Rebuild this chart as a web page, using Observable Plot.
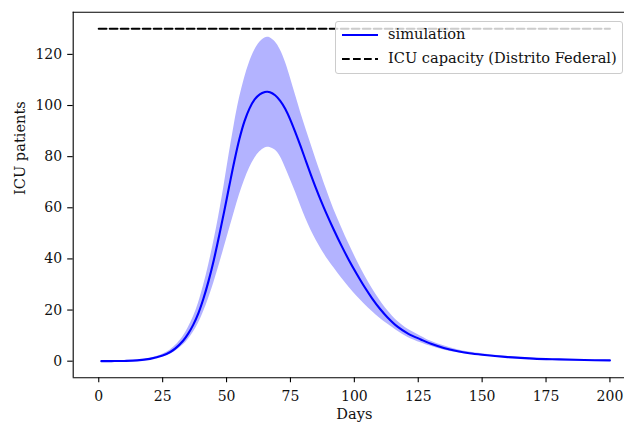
<!DOCTYPE html>
<html>
<head>
<meta charset="utf-8">
<script src="https://cdn.jsdelivr.net/npm/d3@7"></script>
<script src="https://cdn.jsdelivr.net/npm/@observablehq/plot@0.6"></script>
<style>
  html, body { margin: 0; padding: 0; background: white; }
  #wrap { position: relative; width: 624px; height: 423px; overflow: hidden; font-family: "DejaVu Serif", "Liberation Serif", serif; }
  #wrap svg text { font-family: "DejaVu Serif", "Liberation Serif", serif; }
  #legend { position: absolute; left: 335px; top: 20.5px; width: 288px; height: 53px; box-sizing: border-box;
    border: 1px solid #cccccc; border-radius: 3px; background: rgba(255,255,255,0.8); }
  #legend .item { position: absolute; left: 0; height: 20px; width: 100%; }
  #legend svg { position: absolute; left: 5px; top: 0; }
  #legend span { position: absolute; left: 52px; top: -1px; line-height: 20px; color: #111; white-space: nowrap; font-size: 14.6px; }
</style>
</head>
<body>
<div id="wrap"></div>
<script>
// Days sampled along the simulation curve
const days = [1, 5, 10, 15, 20, 25, 28, 30, 33, 35, 37, 39, 41, 43, 45, 47, 49, 51, 53, 55, 57, 59, 61, 63, 65, 66, 67, 69, 71, 73, 75, 77, 79, 81, 83, 85, 87, 89, 92, 95, 98, 101, 104, 107, 110, 113, 117, 121, 126, 130, 135, 140, 145, 150, 160, 170, 180, 190, 200];
// Mean simulated ICU patients
const meanICU = [0.02, 0.04, 0.1, 0.3, 0.9, 2.2, 3.6, 5.0, 8.0, 10.8, 14.3, 18.8, 24.6, 31.5, 39.5, 48.6, 58.2, 68.2, 78.0, 86.8, 93.8, 98.9, 102.4, 104.4, 105.3, 105.4, 105.2, 104.0, 101.8, 98.6, 94.3, 89.3, 84.0, 78.4, 72.9, 67.6, 62.6, 57.9, 51.3, 45.1, 39.3, 34.0, 29.0, 24.5, 20.5, 17.1, 13.4, 10.8, 8.5, 6.8, 5.2, 4.0, 3.1, 2.5, 1.6, 1.0, 0.7, 0.45, 0.3];
// Upper edge of the shaded band
const upperICU = [0.03, 0.05, 0.12, 0.37, 1.1, 2.7, 4.4, 6.1, 9.7, 13.1, 17.3, 22.7, 29.6, 37.6, 46.8, 57.0, 68.4, 80.8, 92.4, 102.6, 110.6, 116.9, 121.6, 124.7, 126.4, 126.7, 126.5, 124.9, 121.8, 117.0, 110.8, 104.0, 97.3, 91.0, 84.9, 78.9, 73.1, 67.4, 59.3, 52.3, 45.6, 39.4, 33.6, 28.4, 23.8, 19.8, 15.5, 12.5, 9.8, 7.8, 6.0, 4.6, 3.6, 2.9, 1.85, 1.15, 0.8, 0.52, 0.35];
// Lower edge of the shaded band
const lowerICU = [0.015, 0.03, 0.08, 0.24, 0.7, 1.7, 2.8, 3.9, 6.3, 8.5, 11.3, 14.8, 19.3, 24.6, 30.6, 37.2, 44.2, 51.2, 58.2, 64.9, 70.7, 75.6, 79.3, 81.9, 83.4, 83.7, 83.6, 82.6, 80.1, 75.8, 71.0, 66.1, 60.8, 55.8, 51.3, 47.4, 43.9, 40.7, 36.5, 32.5, 28.8, 25.4, 22.3, 19.4, 16.8, 14.5, 11.7, 9.3, 7.2, 5.8, 4.4, 3.4, 2.65, 2.1, 1.35, 0.85, 0.6, 0.4, 0.27];
// ICU capacity line
const capacityDays = [0, 200];
const capacityValue = 130;
const xTicks = [0, 25, 50, 75, 100, 125, 150, 175, 200];
const yTicks = [0, 20, 40, 60, 80, 100, 120];
const xLabel = "Days";
const yLabel = "ICU patients";
const legendLabels = ["simulation", "ICU capacity (Distrito Federal)"];

const FAM = '"DejaVu Serif", "Liberation Serif", serif';
const FS = 14;
const LFS = 14.6;

const sim = days.map((d, i) => ({day: d, mean: meanICU[i], upper: upperICU[i], lower: lowerICU[i]}));
const cap = capacityDays.map(d => ({day: d, v: capacityValue}));

const xDomain = [-10, 205.7];
const yDomain = [-6.5, 136.5];

const chart = Plot.plot({
  width: 624,
  height: 423,
  marginLeft: 72.7,
  marginRight: 0,
  marginTop: 11.7,
  marginBottom: 45.7,
  style: {fontFamily: FAM, fontSize: FS + "px", color: "#111", background: "white"},
  x: {domain: xDomain},
  y: {domain: yDomain},
  marks: [
    Plot.areaY(sim, {x: "day", y1: "lower", y2: "upper", fill: "rgb(179,179,255)", curve: "catmull-rom"}),
    Plot.lineY(sim, {x: "day", y: "mean", stroke: "#0000ff", strokeWidth: 2.1, curve: "catmull-rom"}),
    Plot.lineY(cap, {x: "day", y: "v", stroke: "black", strokeWidth: 2.1, strokeDasharray: "7.7,3.3"}),
    Plot.ruleX([xDomain[0]], {stroke: "black", strokeWidth: 1.1}),
    Plot.ruleY(yDomain, {stroke: "black", strokeWidth: 1.1}),
    Plot.axisX({ticks: xTicks, tickSize: 5, tickPadding: 8, tickFormat: d => String(d), label: null, stroke: "black", strokeWidth: 1.1, fontSize: FS}),
    Plot.axisY({ticks: yTicks, tickSize: 5.5, tickPadding: 5.5, tickFormat: d => String(d), label: null, stroke: "black", strokeWidth: 1.1, fontSize: FS}),
    Plot.text([{t: xLabel, x: 100}], {x: "x", text: "t", frameAnchor: "bottom", dy: 36.5, lineAnchor: "middle", fontSize: LFS}),
    Plot.text([yLabel], {frameAnchor: "left", rotate: -90, dx: -53, lineAnchor: "middle", fontSize: LFS})
  ]
});

const wrap = document.getElementById("wrap");
wrap.appendChild(chart);

const legend = document.createElement("div");
legend.id = "legend";
legend.innerHTML = `
  <div class="item" style="top:3px">
    <svg width="40" height="20"><line x1="1" x2="37" y1="10" y2="10" stroke="#0000ff" stroke-width="2.1"/></svg>
    <span>${legendLabels[0]}</span>
  </div>
  <div class="item" style="top:27px">
    <svg width="40" height="20"><line x1="1" x2="37" y1="10" y2="10" stroke="black" stroke-width="2.1" stroke-dasharray="7.7,3.3"/></svg>
    <span>${legendLabels[1]}</span>
  </div>`;
wrap.appendChild(legend);
</script>
</body>
</html>
